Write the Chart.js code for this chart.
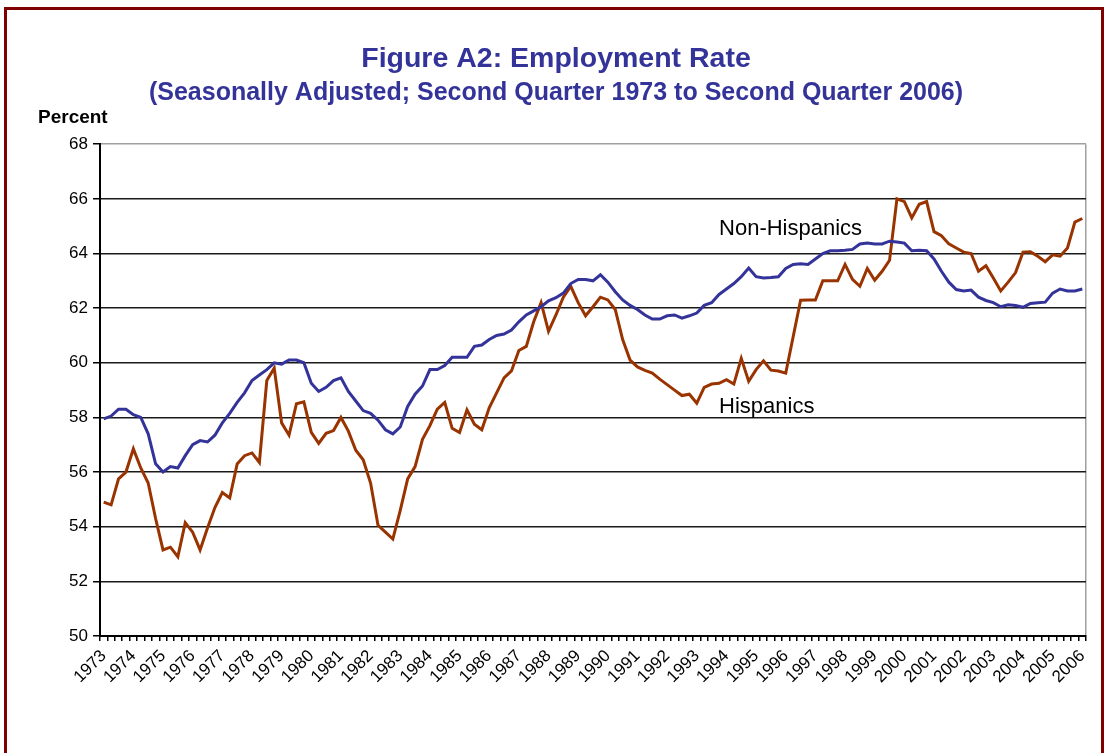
<!DOCTYPE html>
<html>
<head>
<meta charset="utf-8">
<title>Figure A2: Employment Rate</title>
<script src="https://cdn.jsdelivr.net/npm/chart.js@4.4.1/dist/chart.umd.min.js"></script>
<style>
  html, body { margin: 0; padding: 0; background: #fff; }
  #wrap { position: relative; width: 1107px; height: 753px; overflow: hidden; }
  #frame { position: absolute; left: 4px; top: 7px; width: 1094px; height: 800px; border: 3px solid #800000; pointer-events: none; }
  canvas { position: absolute; left: 0; top: 0; }
</style>
</head>
<body>
<div id="wrap">
  <canvas id="employment" width="1107" height="753"></canvas>
  <div id="frame"></div>
</div>
<script>
// tick labels, one per year (shown under the second quarter)
var years = ['1973', '1974', '1975', '1976', '1977', '1978', '1979', '1980', '1981', '1982',
             '1983', '1984', '1985', '1986', '1987', '1988', '1989', '1990', '1991', '1992',
             '1993', '1994', '1995', '1996', '1997', '1998', '1999', '2000', '2001', '2002',
             '2003', '2004', '2005', '2006'];

// categories: 1973 Q2 .. 2006 Q2
var quarters = [];
for (var y = 1973; y <= 2006; y++) {
    for (var q = 1; q <= 4; q++) {
        if ((y === 1973 && q < 2) || (y === 2006 && q > 2)) continue;
        quarters.push(y + ' Q' + q);
    }
}

// employment rate, percent
var nonHispanic = [
    57.95, 58.05, 58.3, 58.3, 58.1, 58.0, 57.4, 56.3, 56.0, 56.2,
    56.15, 56.6, 57.0, 57.15, 57.1, 57.35, 57.8, 58.15, 58.55, 58.9,
    59.35, 59.55, 59.75, 60.0, 59.95, 60.1, 60.1, 60.0, 59.25, 58.95,
    59.1, 59.35, 59.45, 58.95, 58.6, 58.25, 58.15, 57.9, 57.55, 57.4,
    57.65, 58.4, 58.85, 59.15, 59.75, 59.75, 59.9, 60.2, 60.2, 60.2,
    60.6, 60.65, 60.85, 61.0, 61.05, 61.2, 61.5, 61.75, 61.9, 62.05,
    62.27, 62.38, 62.55, 62.9, 63.05, 63.05, 63.0, 63.22, 62.95, 62.6,
    62.3, 62.1, 61.95, 61.75, 61.6, 61.6, 61.72, 61.75, 61.63, 61.72,
    61.82, 62.1, 62.2, 62.5, 62.7, 62.9, 63.15, 63.47, 63.15, 63.1,
    63.12, 63.15, 63.45, 63.6, 63.62, 63.6, 63.8, 64.0, 64.1, 64.1,
    64.12, 64.15, 64.35, 64.38, 64.35, 64.35, 64.45, 64.42, 64.38, 64.1,
    64.12, 64.1, 63.8, 63.35, 62.95, 62.68, 62.63, 62.66, 62.4, 62.28,
    62.2, 62.05, 62.12, 62.1, 62.03, 62.17, 62.2, 62.22, 62.55, 62.7,
    62.63, 62.63, 62.7
];

var hispanic = [
    54.9, 54.8, 55.75, 56.0, 56.85, 56.15, 55.6, 54.3, 53.15, 53.25,
    52.9, 54.15, 53.8, 53.15, 53.95, 54.7, 55.25, 55.05, 56.3, 56.6,
    56.7, 56.35, 59.35, 59.8, 57.8, 57.35, 58.5, 58.57, 57.45, 57.05,
    57.42, 57.52, 58.0, 57.5, 56.8, 56.45, 55.6, 54.05, 53.8, 53.55,
    54.6, 55.75, 56.2, 57.2, 57.7, 58.3, 58.55, 57.6, 57.45, 58.28,
    57.75, 57.55, 58.35, 58.9, 59.45, 59.7, 60.45, 60.6, 61.5, 62.2,
    61.15, 61.75, 62.4, 62.8, 62.2, 61.72, 62.05, 62.4, 62.3, 61.95,
    60.85, 60.1, 59.85, 59.72, 59.62, 59.4, 59.2, 59.0, 58.8, 58.85,
    58.52, 59.1, 59.22, 59.25, 59.38, 59.22, 60.16, 59.32, 59.75, 60.07,
    59.73, 59.7, 59.62, 60.95, 62.29, 62.3, 62.3, 63.0, 63.0, 63.0,
    63.6, 63.05, 62.8, 63.45, 63.02, 63.35, 63.75, 66.0, 65.9, 65.3,
    65.8, 65.9, 64.8, 64.65, 64.35, 64.2, 64.05, 64.0, 63.35, 63.55,
    63.1, 62.63, 62.95, 63.3, 64.05, 64.06, 63.9, 63.7, 63.95, 63.9,
    64.2, 65.15, 65.28
];

// series names written inside the plot (category index, value at baseline)
var seriesNotes = [
    { text: 'Non-Hispanics', index: 83, value: 64.67 },
    { text: 'Hispanics', index: 83, value: 58.17 }
];

Chart.defaults.font.family = '"Liberation Sans", Arial, sans-serif';
Chart.defaults.color = '#000';

var textLabels = {
    id: 'textLabels',
    afterDatasetsDraw: function(chart) {
        var ctx = chart.ctx, area = chart.chartArea;
        ctx.save();
        ctx.fillStyle = '#000';
        ctx.textAlign = 'left';
        ctx.textBaseline = 'alphabetic';
        ctx.font = 'bold 19px "Liberation Sans", Arial, sans-serif';
        ctx.fillText('Percent', area.left - 62, area.top - 21);
        ctx.font = '22px "Liberation Sans", Arial, sans-serif';
        seriesNotes.forEach(function(n) {
            ctx.fillText(n.text, chart.scales.x.getPixelForValue(n.index), chart.scales.y.getPixelForValue(n.value));
        });
        ctx.restore();
    }
};

var chart = new Chart(document.getElementById('employment'), {
    type: 'line',
    data: {
        labels: quarters,
        datasets: [{
            label: 'Non-Hispanics',
            data: nonHispanic,
            borderColor: '#333399',
            borderWidth: 3,
            pointRadius: 0,
            tension: 0,
            fill: false
        },
        {
            label: 'Hispanics',
            data: hispanic,
            borderColor: '#993300',
            borderWidth: 3,
            pointRadius: 0,
            tension: 0,
            fill: false
        }]
    },
    options: {
        responsive: false,
        animation: false,
        layout: {
            padding: { left: 26, right: 21, top: 0, bottom: 0 }
        },
        scales: {
            x: {
                type: 'category',
                offset: true,
                afterFit: function(scale) { scale.height = 117; },
                border: { color: '#000', width: 2 },
                grid: {
                    offset: true,
                    drawOnChartArea: true,
                    // only the closing line on the right is visible in the plot
                    color: function(c) { return c.tick ? 'rgba(0,0,0,0)' : '#a0a0a0'; },
                    lineWidth: 1.5,
                    tickColor: '#000',
                    tickLength: 5
                },
                ticks: {
                    autoSkip: false,
                    minRotation: 45,
                    maxRotation: 45,
                    padding: 5,
                    font: { size: 17 },
                    callback: function(value, index) {
                        return index % 4 === 0 ? years[index / 4] : '';
                    }
                }
            },
            y: {
                min: 50,
                max: 68,
                afterFit: function(scale) { scale.width = 74; },
                border: { color: '#000', width: 2 },
                grid: {
                    color: function(c) { return c.tick && c.tick.value === 68 ? '#a0a0a0' : '#1a1a1a'; },
                    lineWidth: 1.5,
                    tickColor: '#000',
                    tickLength: 7
                },
                ticks: {
                    stepSize: 2,
                    padding: 5,
                    font: { size: 17 }
                }
            }
        },
        plugins: {
            legend: { display: false },
            tooltip: { enabled: false },
            title: {
                display: true,
                text: 'Figure A2: Employment Rate',
                color: '#333399',
                font: { size: 28.5, weight: 'bold' },
                padding: { top: 42, bottom: 0 }
            },
            subtitle: {
                display: true,
                text: '(Seasonally Adjusted; Second Quarter 1973 to Second Quarter 2006)',
                color: '#333399',
                font: { size: 25, weight: 'bold' },
                padding: { top: 2, bottom: 36 }
            }
        }
    },
    plugins: [textLabels]
});
</script>
</body>
</html>
